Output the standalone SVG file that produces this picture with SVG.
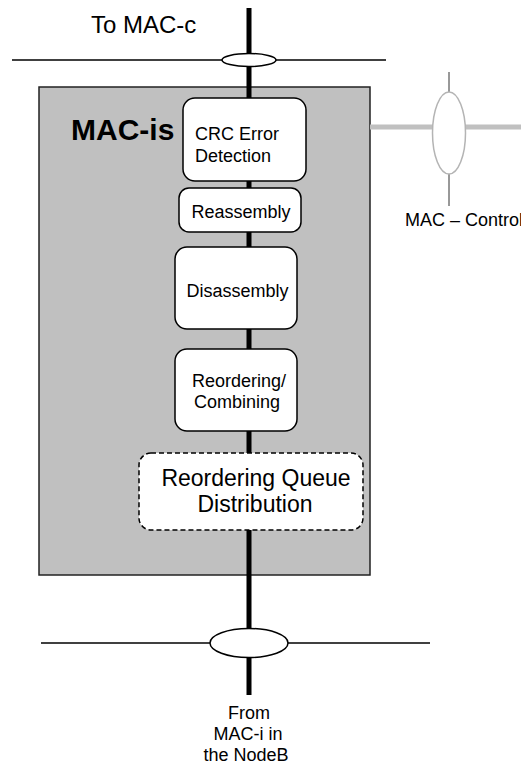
<svg xmlns="http://www.w3.org/2000/svg" width="521" height="762" viewBox="0 0 521 762">
<style>
text{font-family:"Liberation Sans",Arial,sans-serif;fill:#000}
.t18{font-size:18px}
.t23{font-size:23px}
.box{fill:#fff;stroke:#000;stroke-width:1.5}
.dash{stroke-dasharray:5,3}
.thick{stroke:#000;stroke-width:5;fill:none}
.thin{stroke:#000;stroke-width:1.6;fill:none}
.sap{fill:#fff;stroke:#000;stroke-width:1.5}
</style>
<rect width="521" height="762" fill="#fff"/>
<g id="mac-is">
<rect x="39" y="87" width="331" height="488" fill="#c0c0c0" stroke="#222" stroke-width="1.5"/>
<text x="71" y="140" style="font-size:30px;font-weight:bold">MAC-is</text>
</g>
<g id="connectors">
<line class="thick" x1="249" y1="8" x2="249" y2="695"/>
<line class="thin" x1="12" y1="60" x2="386" y2="60"/>
<line class="thin" x1="41" y1="643" x2="430" y2="643"/>
<line x1="370" y1="127" x2="521" y2="127" stroke="#c0c0c0" stroke-width="5"/>
<line x1="449" y1="72" x2="449" y2="92" stroke="#333" stroke-width="1"/>
<line x1="449" y1="174" x2="449" y2="206" stroke="#333" stroke-width="1"/>
</g>
<g id="sap-top"><ellipse class="sap" cx="249" cy="60" rx="27" ry="6.5"/></g>
<g id="sap-bottom"><ellipse class="sap" cx="249" cy="643" rx="39" ry="14.5"/></g>
<g id="sap-control"><ellipse cx="449" cy="133" rx="16.5" ry="41" fill="#fff" stroke="#b4b4b4" stroke-width="1.5"/></g>
<g id="crc">
<rect class="box" x="183" y="98" width="123" height="83" rx="12"/>
<text class="t18" x="195" y="140">CRC Error</text>
<text class="t18" x="195" y="162">Detection</text>
</g>
<g id="reassembly">
<rect class="box" x="179" y="188" width="122" height="44" rx="10"/>
<text class="t18" x="241" y="218" text-anchor="middle">Reassembly</text>
</g>
<g id="disassembly">
<rect class="box" x="175" y="247" width="122" height="82" rx="12"/>
<text class="t18" x="237.5" y="297" text-anchor="middle">Disassembly</text>
</g>
<g id="reordering">
<rect class="box" x="175" y="349" width="122" height="82" rx="12"/>
<text class="t18" x="239" y="387" text-anchor="middle">Reordering/</text>
<text class="t18" x="237" y="408" text-anchor="middle">Combining</text>
</g>
<g id="queue">
<rect class="box dash" x="139" y="453" width="224" height="77" rx="12"/>
<text class="t23" x="256" y="486" text-anchor="middle">Reordering Queue</text>
<text class="t23" x="255" y="512" text-anchor="middle">Distribution</text>
</g>
<g id="labels">
<text x="91" y="33" style="font-size:24px">To MAC-c</text>
<text class="t18" x="405" y="226">MAC – Control</text>
<text class="t18" x="249" y="719" text-anchor="middle">From</text>
<text class="t18" x="248" y="740" text-anchor="middle">MAC-i in</text>
<text class="t18" x="246" y="761" text-anchor="middle">the NodeB</text>
</g>
</svg>
